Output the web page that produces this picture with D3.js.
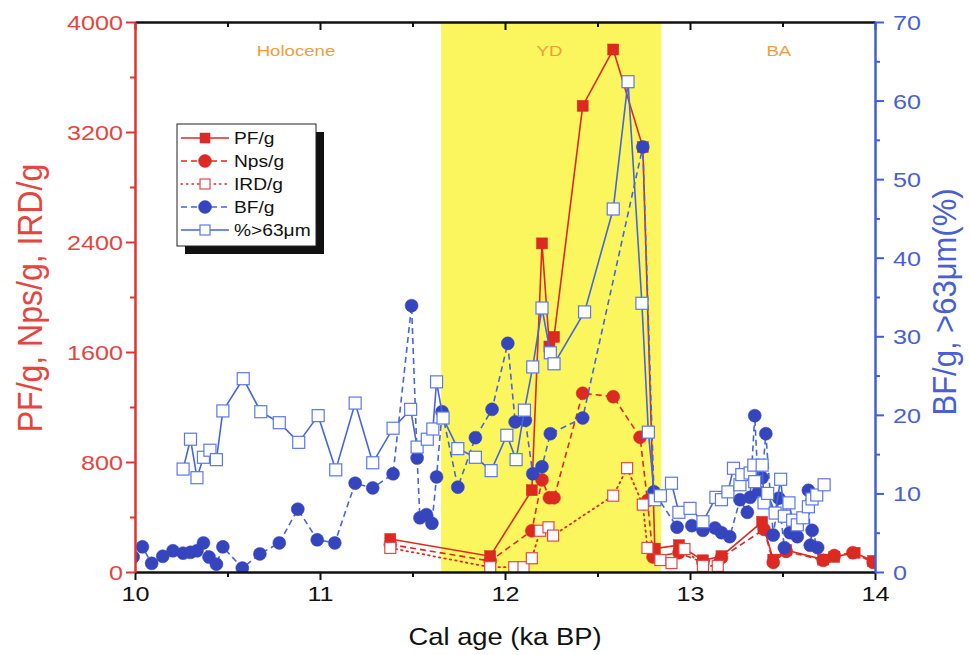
<!DOCTYPE html>
<html>
<head>
<meta charset="utf-8">
<script src="https://cdn.jsdelivr.net/npm/d3@7"></script>
<style>
  html, body { margin: 0; padding: 0; background: #ffffff; }
  svg { display: block; font-family: "Liberation Sans", Arial, sans-serif; }
</style>
</head>
<body>
<svg id="chart" width="969" height="655"></svg>
<script>
// ---- data (age in ka BP) ----
const pfAge  = [11.38, 11.92, 12.145, 12.20, 12.24, 12.265, 12.42, 12.585, 12.745, 12.81, 12.94, 13.07, 13.17, 13.39, 13.45, 13.52, 13.72, 13.78, 13.89, 13.99];
const pfVal  = [240, 115, 595, 2390, 1640, 1710, 3390, 3800, 3090, 170, 195, 85, 115, 365, 90, 160, 90, 110, 140, 80];

const npsAge = [11.38, 11.92, 12.145, 12.20, 12.24, 12.265, 12.42, 12.585, 12.73, 12.77, 12.80, 12.94, 13.07, 13.17, 13.40, 13.45, 13.52, 13.72, 13.78, 13.88, 13.99];
const npsVal = [200, 80, 300, 670, 540, 540, 1300, 1275, 980, 520, 110, 140, 70, 105, 310, 70, 150, 85, 120, 140, 70];

const irdAge = [11.38, 11.92, 12.05, 12.10, 12.145, 12.19, 12.235, 12.26, 12.585, 12.66, 12.745, 12.77, 12.84, 12.90, 12.97, 13.07, 13.15];
const irdVal = [175, 35, 35, 35, 100, 300, 325, 265, 555, 755, 490, 175, 87, 65, 167, 44, 44];

const bfAge = [9.99, 10.04, 10.09, 10.15, 10.205, 10.26, 10.30, 10.335, 10.37, 10.40, 10.44, 10.475, 10.58, 10.675, 10.78, 10.88, 10.985, 11.08, 11.19, 11.285, 11.395, 11.495, 11.525, 11.54, 11.575, 11.605, 11.63, 11.66, 11.745, 11.84, 11.93, 12.015, 12.055, 12.11, 12.15, 12.20, 12.245, 12.42, 12.745, 12.805, 12.93, 13.01, 13.07, 13.135, 13.17, 13.215, 13.27, 13.31, 13.325, 13.35, 13.37, 13.39, 13.41, 13.45, 13.48, 13.51, 13.54, 13.58, 13.64, 13.65, 13.66, 13.69];
const bfVal = [1.9, 3.2, 1.1, 2.0, 2.7, 2.4, 2.5, 2.7, 3.7, 1.9, 1.0, 3.2, 0.5, 2.3, 3.7, 8.0, 4.1, 3.7, 11.3, 10.7, 12.5, 33.9, 14.5, 6.9, 7.3, 6.2, 12.1, 20.4, 10.8, 17.1, 20.7, 29.1, 19.1, 19.3, 12.5, 13.4, 17.6, 19.6, 54.1, 10.2, 5.7, 5.9, 5.3, 5.6, 5.0, 4.5, 9.2, 7.6, 9.5, 19.9, 10.2, 12.0, 17.6, 4.7, 9.4, 3.1, 5.0, 4.5, 10.4, 3.4, 5.3, 3.1];

const coarseAge = [10.26, 10.30, 10.335, 10.37, 10.405, 10.44, 10.475, 10.585, 10.68, 10.78, 10.885, 10.99, 11.085, 11.19, 11.285, 11.395, 11.49, 11.525, 11.58, 11.61, 11.63, 11.665, 11.745, 11.84, 11.925, 12.01, 12.06, 12.105, 12.15, 12.20, 12.245, 12.265, 12.43, 12.585, 12.665, 12.74, 12.775, 12.81, 12.84, 12.90, 12.94, 13.00, 13.07, 13.14, 13.17, 13.205, 13.235, 13.27, 13.28, 13.325, 13.345, 13.35, 13.39, 13.40, 13.42, 13.46, 13.49, 13.51, 13.535, 13.555, 13.58, 13.61, 13.64, 13.66, 13.685, 13.725];
const coarseVal = [13.1, 16.9, 12.0, 14.6, 15.5, 14.3, 20.5, 24.6, 20.4, 19.0, 16.5, 19.9, 13.0, 21.5, 13.9, 18.3, 20.7, 15.9, 16.9, 18.2, 24.2, 19.6, 15.7, 14.6, 12.9, 17.4, 14.3, 20.6, 26.1, 33.6, 27.9, 26.5, 33.1, 46.2, 62.4, 34.2, 17.8, 9.2, 9.7, 11.3, 7.6, 8.1, 6.4, 9.5, 9.2, 10.2, 13.2, 11.1, 12.4, 12.6, 13.6, 11.5, 13.6, 8.8, 10.0, 7.5, 11.8, 7.1, 8.8, 6.6, 6.0, 6.9, 8.3, 9.3, 9.8, 11.1];

const periods = [
  { name: "Holocene", at: 10.87 },
  { name: "YD", at: 12.24 },
  { name: "BA", at: 13.48 }
];
const ydSpan = [11.655, 12.845];

const xTicks = [10, 11, 12, 13, 14];
const xMinor = [10.5, 11.5, 12.5, 13.5];
const leftTicks = [0, 800, 1600, 2400, 3200, 4000];
const leftMinor = [400, 1200, 2000, 2800, 3600];
const rightTicks = [0, 10, 20, 30, 40, 50, 60, 70];
const rightMinor = [5, 15, 25, 35, 45, 55, 65];

// ---- styling ----
const RED = "#dc2a22", RED_TXT = "#e6453f", RED_AX = "#e2342c";
const BLUE = "#3545bd", BLUE_LN = "#4565dc", BLUE_SQ = "#5a78ec", BLUE_AX = "#3e5ee0", BLUE_TXT = "#4a60d2";
const ORANGE = "#f39c3a";
const SX = 1.2; // horizontal text stretch

const svg = d3.select("#chart");
const L = 135, R = 875, T = 22, B = 572;

const x = d3.scaleLinear().domain([10, 14]).range([L, R]);
const yL = d3.scaleLinear().domain([0, 4000]).range([B, T]);
const yR = d3.scaleLinear().domain([0, 70]).range([B, T]);

svg.append("defs").append("clipPath").attr("id", "plotClip")
  .append("rect").attr("x", L).attr("y", T - 8).attr("width", R - L).attr("height", B - T + 8);

// Younger Dryas band
svg.append("rect")
  .attr("x", x(ydSpan[0])).attr("y", T)
  .attr("width", x(ydSpan[1]) - x(ydSpan[0])).attr("height", B - T)
  .attr("fill", "#fbf65e");

// period names
svg.append("g").selectAll("text").data(periods).join("text")
  .attr("transform", d => `translate(${x(d.at)},56) scale(${SX},1)`)
  .attr("text-anchor", "middle")
  .attr("font-size", 15.5)
  .attr("fill", ORANGE)
  .text(d => d.name);

// ---- series ----
const plot = svg.append("g").attr("clip-path", "url(#plotClip)");

function series(ages, vals, yScale, opt) {
  const pts = ages.map((a, i) => [x(a), yScale(vals[i])]);
  const g = plot.append("g");
  g.append("path")
    .attr("d", d3.line()(pts))
    .attr("fill", "none")
    .attr("stroke", opt.line)
    .attr("stroke-width", opt.lw || 1.6)
    .attr("stroke-dasharray", opt.dash || null)
    .attr("stroke-linecap", opt.cap || "butt");
  drawMarkers(g, pts, opt);
}

function drawMarkers(g, pts, opt) {
  if (opt.shape === "circle") {
    g.selectAll("circle").data(pts).join("circle")
      .attr("cx", d => d[0]).attr("cy", d => d[1]).attr("r", 6.5)
      .attr("fill", opt.fill).attr("stroke", opt.fill).attr("stroke-width", 0.5);
  } else {
    const s = opt.size || 11;
    g.selectAll("rect").data(pts).join("rect")
      .attr("x", d => d[0] - s / 2).attr("y", d => d[1] - s / 2)
      .attr("width", s).attr("height", s)
      .attr("fill", opt.fill).attr("stroke", opt.stroke).attr("stroke-width", opt.sw || 1.2);
  }
}

const styles = {
  pf:     { line: RED, shape: "square", fill: RED, stroke: RED, size: 11, sw: 0.5 },
  nps:    { line: RED, dash: "6,4", shape: "circle", fill: RED },
  ird:    { line: RED, dash: "1.5,4", cap: "round", lw: 1.8, shape: "square", fill: "#ffffff", stroke: "#e24a4a", size: 11 },
  bf:     { line: BLUE_LN, dash: "6,4", shape: "circle", fill: BLUE },
  coarse: { line: BLUE_LN, shape: "square", fill: "#ffffff", stroke: BLUE_SQ, size: 12 }
};

series(pfAge, pfVal, yL, styles.pf);
series(npsAge, npsVal, yL, styles.nps);
series(irdAge, irdVal, yL, styles.ird);
series(bfAge, bfVal, yR, styles.bf);
series(coarseAge, coarseVal, yR, styles.coarse);

// ---- axes ----
function styleAxis(g, color, width) {
  g.select(".domain").attr("stroke", color).attr("stroke-width", width);
  g.selectAll(".tick line").attr("stroke", color).attr("stroke-width", 2);
}

// top frame
const topAxis = svg.append("g").attr("transform", `translate(0,${T})`);
topAxis.call(d3.axisBottom(x).tickValues(xTicks).tickSize(8).tickFormat("").tickSizeOuter(0));
styleAxis(topAxis, "#111", 2);
const topMinor = svg.append("g").attr("transform", `translate(0,${T})`);
topMinor.call(d3.axisBottom(x).tickValues(xMinor).tickSize(5).tickFormat("").tickSizeOuter(0));
styleAxis(topMinor, "#111", 2);

// bottom axis
const bottomAxis = svg.append("g").attr("transform", `translate(0,${B})`);
bottomAxis.call(d3.axisBottom(x).tickValues(xTicks).tickSize(8).tickSizeOuter(0).tickFormat(d3.format("d")));
styleAxis(bottomAxis, "#111", 2);
bottomAxis.selectAll(".tick text")
  .attr("y", 0).attr("dy", 0)
  .attr("transform", `translate(0,29) scale(${SX},1)`)
  .attr("font-size", 21).attr("fill", "#111");
const bottomMinor = svg.append("g").attr("transform", `translate(0,${B})`);
bottomMinor.call(d3.axisBottom(x).tickValues(xMinor).tickSize(5).tickFormat("").tickSizeOuter(0));
styleAxis(bottomMinor, "#111", 2);

// left axis
const leftAxis = svg.append("g").attr("transform", `translate(${L},0)`);
leftAxis.call(d3.axisLeft(yL).tickValues(leftTicks).tickSize(9).tickSizeOuter(0).tickFormat(d3.format("d")));
styleAxis(leftAxis, RED_AX, 2);
leftAxis.selectAll(".tick text")
  .attr("x", 0).attr("dy", 0)
  .attr("transform", `translate(-12,7.5) scale(${SX},1)`)
  .attr("font-size", 21).attr("fill", RED_TXT);
const leftMinorG = svg.append("g").attr("transform", `translate(${L},0)`);
leftMinorG.call(d3.axisLeft(yL).tickValues(leftMinor).tickSize(5).tickFormat("").tickSizeOuter(0));
styleAxis(leftMinorG, RED_AX, 2);

// right axis
const rightAxis = svg.append("g").attr("transform", `translate(${R},0)`);
rightAxis.call(d3.axisRight(yR).tickValues(rightTicks).tickSize(9).tickSizeOuter(0).tickFormat(d3.format("d")));
styleAxis(rightAxis, BLUE_AX, 2);
rightAxis.selectAll(".tick text")
  .attr("x", 0).attr("dy", 0)
  .attr("transform", `translate(18,7.5) scale(${SX},1)`)
  .attr("font-size", 21).attr("fill", BLUE_TXT);
const rightMinorG = svg.append("g").attr("transform", `translate(${R},0)`);
rightMinorG.call(d3.axisRight(yR).tickValues(rightMinor).tickSize(5).tickFormat("").tickSizeOuter(0));
styleAxis(rightMinorG, BLUE_AX, 2);

// axis titles
svg.append("text")
  .attr("transform", `translate(505,645) scale(1.14,1)`)
  .attr("text-anchor", "middle").attr("font-size", 24).attr("fill", "#111")
  .text("Cal age (ka BP)");

svg.append("text")
  .attr("transform", `translate(42,298) scale(1.08,1) rotate(-90)`)
  .attr("text-anchor", "middle").attr("font-size", 32).attr("fill", RED_TXT)
  .text("PF/g, Nps/g, IRD/g");

svg.append("text")
  .attr("transform", `translate(956,302) scale(1.08,1) rotate(-90)`)
  .attr("text-anchor", "middle").attr("font-size", 31).attr("fill", BLUE_TXT)
  .text("BF/g, >63μm(%)");

// ---- legend ----
const legendItems = [
  { label: "PF/g", st: styles.pf },
  { label: "Nps/g", st: styles.nps },
  { label: "IRD/g", st: styles.ird },
  { label: "BF/g", st: styles.bf },
  { label: "%>63μm", st: styles.coarse }
];
const lg = svg.append("g");
const lx = 177, ly = 124, lw = 139, lh = 122;
lg.append("rect").attr("x", lx + 8).attr("y", ly + 8).attr("width", lw).attr("height", lh).attr("fill", "#111");
lg.append("rect").attr("x", lx).attr("y", ly).attr("width", lw).attr("height", lh)
  .attr("fill", "#ffffff").attr("stroke", "#222").attr("stroke-width", 1);

legendItems.forEach((it, i) => {
  const yy = 138 + i * 23;
  const g = lg.append("g");
  g.append("line").attr("x1", 181).attr("x2", 229).attr("y1", yy).attr("y2", yy)
    .attr("stroke", it.st.line).attr("stroke-width", 1.3)
    .attr("stroke-dasharray", it.st.dash || null)
    .attr("stroke-linecap", it.st.cap || "butt");
  drawMarkers(g, [[205, yy]], Object.assign({}, it.st, { size: 10 }));
  g.append("text")
    .attr("transform", `translate(234,${yy + 6}) scale(${SX},1)`)
    .attr("font-size", 16).attr("fill", "#111")
    .text(it.label);
});
</script>
</body>
</html>
